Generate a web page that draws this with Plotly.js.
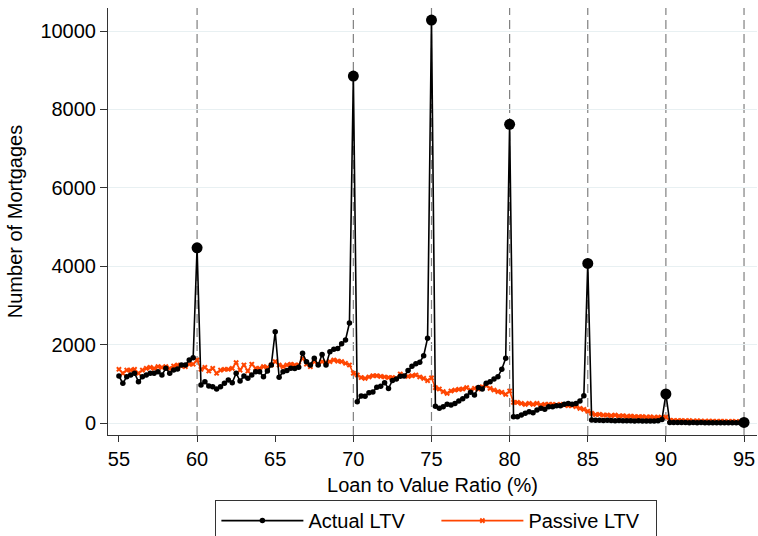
<!DOCTYPE html>
<html>
<head>
<meta charset="utf-8">
<script src="https://cdn.plot.ly/plotly-3.0.1.min.js"></script>
<style>html,body{margin:0;padding:0;background:#fff;}#chart{width:758px;height:536px;}</style>
</head>
<body>
<div id="chart"></div>
<script>
// Loan-to-value ratio grid (%), step 0.25 from 55 to 95
var ltvStart = 55, ltvStep = 0.25, ltvCount = 161;
var ltv = [];
for (var i = 0; i < ltvCount; i++) ltv.push(ltvStart + i * ltvStep);

// Actual LTV counts
var actualLTV = [
  1199, 1012, 1182, 1225, 1270, 1054, 1182, 1225, 1270, 1270, 1309, 1225, 1395, 1270, 1350, 1380, 1480, 1480, 1607, 1667,
  4470,
  970, 1054, 943, 926, 867, 926, 1012, 1097, 1030, 1270, 1071, 1199, 1140, 1225, 1309, 1309, 1182, 1326, 1480,
  2330,
  1166, 1309, 1340, 1400, 1390, 1420, 1778, 1565, 1480, 1650, 1480, 1750, 1480, 1820, 1880, 1900, 2020, 2120, 2550,
  8850,
  544, 690, 680, 775, 790, 910, 935, 1030, 880, 1085, 1120, 1190, 1200, 1340, 1450, 1510, 1550, 1715, 2165,
  10280,
  430, 374, 416, 476, 459, 500, 561, 620, 690, 782, 714, 905, 867, 1012, 1054, 1122, 1182, 1370, 1650,
  7620,
  162, 162, 204, 247, 289, 264, 331, 374, 348, 416, 416, 442, 442, 476, 500, 476, 500, 561, 697,
  4070,
  75, 70, 72, 65, 68, 62, 60, 64, 58, 55, 58, 52, 55, 50, 52, 48, 50, 55, 90,
  740,
  15, 12, 10, 12, 10, 8, 10, 8, 10, 8, 8, 6, 8, 6, 6, 5, 6, 5, 5,
  15
];

// Passive LTV counts
var passiveLTV = [
  1370, 1270, 1350, 1350, 1370, 1270, 1350, 1395, 1420, 1395, 1437, 1420, 1437, 1395, 1455, 1480, 1455, 1437, 1500, 1500,
  1607,
  1370, 1420, 1326, 1395, 1270, 1350, 1370, 1370, 1395, 1540, 1350, 1480, 1326, 1500, 1395, 1395, 1437, 1420, 1480,
  1565,
  1480, 1437, 1480, 1500, 1480, 1480, 1650, 1500, 1437, 1565, 1500, 1565, 1540, 1565, 1607, 1580, 1565, 1523, 1480,
  1270,
  1224, 1160, 1140, 1175, 1205, 1205, 1190, 1175, 1160, 1160, 1140, 1250, 1205, 1190, 1205, 1224, 1175, 1140, 1080,
  1150,
  901, 867, 799, 756, 816, 841, 858, 867, 901, 841, 884, 867, 926, 952, 884, 841, 799, 782, 731,
  816,
  527, 527, 500, 476, 500, 476, 500, 459, 476, 476, 476, 459, 476, 459, 442, 442, 416, 374, 348,
  300,
  247, 215, 220, 200, 205, 190, 200, 180, 185, 170, 175, 165, 160, 165, 150, 155, 145, 150, 140,
  150,
  70, 65, 60, 65, 55, 60, 50, 55, 50, 45, 50, 45, 40, 45, 40, 35, 40, 35, 35,
  30
];

// Heaping points marked with dashed reference lines and large dots
var heapPoints = [60, 70, 75, 80, 85, 90, 95];
var xTicks = [55, 60, 65, 70, 75, 80, 85, 90, 95];
var yTicks = [0, 2000, 4000, 6000, 8000, 10000];

var heapY = heapPoints.map(function (h) { return actualLTV[ltv.indexOf(h)]; });

var orange = '#ff4500';
var traces = [
  {
    x: ltv, y: passiveLTV, name: 'Passive LTV', type: 'scatter', mode: 'lines+markers',
    line: {color: orange, width: 1.6},
    marker: {symbol: 'x', size: 5, color: orange}
  },
  {
    x: ltv, y: actualLTV, name: 'Actual LTV', type: 'scatter', mode: 'lines+markers',
    line: {color: '#000', width: 1.6},
    marker: {symbol: 'circle', size: 5.5, color: '#000'}
  },
  {
    x: heapPoints, y: heapY, type: 'scatter', mode: 'markers', showlegend: false,
    marker: {symbol: 'circle', size: 11, color: '#000'}
  }
];

var shapes = heapPoints.map(function (h) {
  return {type: 'line', xref: 'x', yref: 'paper', x0: h, x1: h, y0: 0, y1: 1,
          layer: 'below', line: {color: '#808080', width: 1.2, dash: '9px,5px'}};
});

var fam = 'Liberation Sans, Arial, sans-serif';
var fsz = 20;

var layout = {
  width: 758, height: 536,
  margin: {l: 108, r: 1, t: 8, b: 101, pad: 0},
  paper_bgcolor: '#fff', plot_bgcolor: '#fff',
  font: {family: fam, size: fsz, color: '#000'},
  showlegend: true,
  legend: {
    orientation: 'h', xref: 'paper', x: 0.506, xanchor: 'center',
    yref: 'container', y: 0.067, yanchor: 'top',
    traceorder: 'reversed',
    bordercolor: '#333', borderwidth: 1, font: {family: fam, size: fsz, color: '#000'},
    itemwidth: 82, entrywidth: 123, entrywidthmode: 'pixels'
  },
  xaxis: {
    range: [54.3, 95.83], tickvals: xTicks, ticktext: xTicks.map(String),
    ticks: 'outside', ticklen: 6, tickcolor: '#333', tickwidth: 1,
    showline: true, linecolor: '#333', linewidth: 1, showgrid: false, zeroline: false,
    tickfont: {family: fam, size: fsz, color: '#000'},
    title: {text: 'Loan to Value Ratio (%)', font: {family: fam, size: fsz, color: '#000'}, standoff: 8}
  },
  yaxis: {
    range: [-306, 10587], tickvals: yTicks, ticktext: yTicks.map(String),
    ticks: 'outside', ticklen: 7, tickcolor: '#333', tickwidth: 1,
    showline: true, linecolor: '#333', linewidth: 1,
    showgrid: true, gridcolor: '#e8f0f2', gridwidth: 1, zeroline: false,
    tickfont: {family: fam, size: fsz, color: '#000'},
    title: {text: 'Number of Mortgages', font: {family: fam, size: fsz, color: '#000'}, standoff: 12}
  },
  shapes: shapes
};

Plotly.newPlot('chart', traces, layout, {displayModeBar: false, staticPlot: true});
</script>
</body>
</html>
